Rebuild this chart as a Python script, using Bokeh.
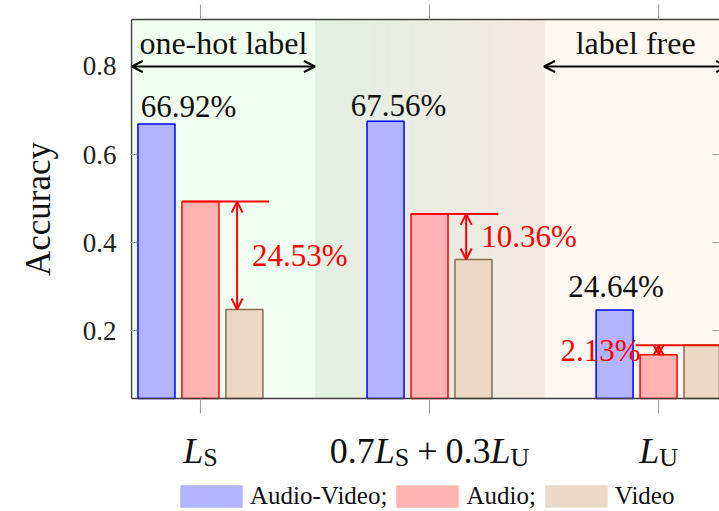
import numpy as np
from bokeh.plotting import figure
from bokeh.layouts import column
from bokeh.models import (Range1d, FixedTicker, Label, Arrow, OpenHead, Legend, LegendItem)
from bokeh.embed import file_html
from bokeh.resources import INLINE

# ---------------- data ----------------
groups = [0, 1, 2]
audio_video = [0.6692, 0.6756, 0.2464]
audio = [0.4930, 0.4650, 0.1450]
video = [0.2477, 0.3614, 0.1663]
av_labels = ["66.92%", "67.56%", "24.64%"]
gap_labels = ["24.53%", "10.36%", "2.13%"]
y_ticks = [0.2, 0.4, 0.6, 0.8]
y_tick_labels = ["0.2", "0.4", "0.6", "0.8"]
series_names = ["Audio-Video;", "Audio;", "Video"]
region_labels = ["one-hot label", "label free"]
# tick labels: pieces (text, italic?, is_subscript)
tick_label_pieces = [
    [("L", True, False), ("S", False, True)],
    [("0.7", False, False), ("L", True, False), ("S", False, True), ("+", False, False),
     ("0.3", False, False), ("L", True, False), ("U", False, True)],
    [("L", True, False), ("U", False, True)],
]

# ---------------- layout ----------------
W = 719
H_MAIN, H_BOT = 417, 94
B_LEFT = 130
PX_Y = 440.0                      # pixels per accuracy unit
Y_TOP = 0.9068                    # visual top of axis box
Y_FLOOR = 0.0455                  # visual bottom of axis box
Y_MAX = Y_TOP + 19 / PX_Y
Y_MIN = Y_FLOOR - (H_MAIN - 398) / PX_Y
X_VIS_L = -0.301
X_MAX = 2.266
PX_X = (W - B_LEFT - 1) / (X_MAX - X_VIS_L)
X_MIN = X_VIS_L - 1 / PX_X
regions = [(-0.3, 0.5), (0.5, 1.5), (1.5, 2.3)]
BAR_W = 0.1616
OFF = 0.192
FONT = "Liberation Serif"
FRAME_C = "#404040"
TICK_C = "#999999"

C_AV_FILL, C_AV_LINE = "#b3b3ff", "#0000ff"
C_A_FILL, C_A_LINE = "#ffb3b3", "#ff0000"
C_V_FILL, C_V_LINE = "#ebd9c6", "#8a6d4f"

xr = Range1d(X_MIN, X_MAX)
p = figure(width=W, height=H_MAIN, x_range=xr, y_range=Range1d(Y_MIN, Y_MAX),
           output_backend="svg", toolbar_location=None,
           min_border_left=B_LEFT, min_border_right=0, min_border_top=0, min_border_bottom=0)
p.grid.visible = False
p.outline_line_color = None
p.background_fill_color = "white"
p.border_fill_color = "white"
p.xaxis.visible = False

# ---------------- background bands ----------------
p.quad(left=[regions[0][0] - 0.1], right=[regions[0][1]], bottom=[Y_FLOOR], top=[Y_TOP],
       fill_color="#f0fff0", line_color=None)
p.quad(left=[regions[2][0]], right=[regions[2][1] + 0.1], bottom=[Y_FLOOR], top=[Y_TOP],
       fill_color="#fdf8f1", line_color=None)
n_strips = 60
edges = np.linspace(regions[1][0], regions[1][1], n_strips + 1)
c0 = np.array([0xe3, 0xef, 0xe3], dtype=float)
c1 = np.array([0xf2, 0xe9, 0xe2], dtype=float)
cols = []
for i in range(n_strips):
    t = (i + 0.5) / n_strips
    c = (c0 * (1 - t) + c1 * t).round().astype(int)
    cols.append("#%02x%02x%02x" % tuple(c))
p.quad(left=edges[:-1], right=edges[1:] + 0.002, bottom=Y_FLOOR, top=Y_TOP,
       fill_color=cols, line_color=None)

# ---------------- bars ----------------
g = np.array(groups, dtype=float)
p.vbar(x=g - OFF, top=audio_video, bottom=Y_FLOOR, width=BAR_W,
       fill_color=C_AV_FILL, line_color=C_AV_LINE, line_width=1.5)
p.vbar(x=g, top=audio, bottom=Y_FLOOR, width=BAR_W,
       fill_color=C_A_FILL, line_color=C_A_LINE, line_width=1.5)
p.vbar(x=g + OFF, top=video, bottom=Y_FLOOR, width=BAR_W,
       fill_color=C_V_FILL, line_color=C_V_LINE, line_width=1.5)

# ---------------- axis box and ticks ----------------
p.segment(x0=[X_VIS_L, X_VIS_L, X_VIS_L], x1=[X_MAX + 1, X_MAX + 1, X_VIS_L],
          y0=[Y_TOP, Y_FLOOR, Y_FLOOR], y1=[Y_TOP, Y_FLOOR, Y_TOP],
          line_color=FRAME_C, line_width=1.5)
p.segment(x0=[X_MAX - 7 / PX_X] * len(y_ticks), x1=[X_MAX] * len(y_ticks),
          y0=y_ticks, y1=y_ticks, line_color=TICK_C, line_width=1)
p.segment(x0=groups, x1=groups, y0=[Y_TOP] * 3, y1=[Y_TOP + 15 / PX_Y] * 3,
          line_color=TICK_C, line_width=1)
p.segment(x0=groups, x1=groups, y0=[Y_FLOOR] * 3, y1=[Y_FLOOR - 15 / PX_Y] * 3,
          line_color=TICK_C, line_width=1)

ya = p.yaxis[0]
ya.ticker = FixedTicker(ticks=y_ticks)
ya.major_label_overrides = {t: s for t, s in zip(y_ticks, y_tick_labels)}
ya.major_tick_in = 7
ya.major_tick_out = 0
ya.major_tick_line_color = TICK_C
ya.minor_tick_line_color = None
ya.axis_line_color = None
ya.major_label_standoff = 14
ya.major_label_text_font = FONT
ya.major_label_text_font_size = "27px"
ya.major_label_text_color = "#222222"
ya.axis_label = "Accuracy"
ya.axis_label_text_font = FONT
ya.axis_label_text_font_size = "35px"
ya.axis_label_text_font_style = "normal"
ya.axis_label_text_color = "#111111"
ya.axis_label_standoff = 22

# ---------------- region arrows & labels ----------------
for (x0, x1), lab in zip([regions[0], regions[2]], region_labels):
    p.add_layout(Arrow(x_start=x0, x_end=x1, y_start=0.8, y_end=0.8,
                       line_color="black", line_width=2,
                       start=OpenHead(size=11, line_width=2, line_color="black"),
                       end=OpenHead(size=11, line_width=2, line_color="black")))
    p.add_layout(Label(x=(x0 + x1) / 2, y=0.8, y_offset=23, text=lab, text_font=FONT,
                       text_font_size="32px", text_align="center",
                       text_baseline="middle", text_color="#111111"))

# ---------------- value labels ----------------
av_dx = [32, 13, 1.5]
av_dy = [18, 16, 24]
for gi, v, lab, dx, dy in zip(groups, audio_video, av_labels, av_dx, av_dy):
    p.add_layout(Label(x=gi - OFF, y=v, x_offset=dx, y_offset=dy, text=lab, text_font=FONT,
                       text_font_size="31px", text_align="center",
                       text_baseline="middle", text_color="#111111"))

# ---------------- gap brackets ----------------
line_span = [(-0.08, 0.30), (-0.08, 0.30), (-0.10, 0.40)]
arrow_dx = [0.16, 0.16, 0.0]
head_size = [11, 11, 10]
label_side = [("left", 15), ("left", 15), ("right", -18)]
for i, gi in enumerate(groups):
    top = max(audio[i], video[i])
    bot = min(audio[i], video[i])
    p.segment(x0=[gi + line_span[i][0]], x1=[gi + line_span[i][1]], y0=[top], y1=[top],
              line_color="red", line_width=2)
    ax = gi + arrow_dx[i]
    p.add_layout(Arrow(x_start=ax, x_end=ax, y_start=top, y_end=bot,
                       line_color="red", line_width=2,
                       start=OpenHead(size=head_size[i], line_width=2, line_color="red"),
                       end=OpenHead(size=head_size[i], line_width=2, line_color="red")))
    p.add_layout(Label(x=ax, y=(top + bot) / 2, x_offset=label_side[i][1], text=gap_labels[i],
                       text_font=FONT, text_font_size="31px", text_align=label_side[i][0],
                       text_baseline="middle", text_color="red"))

# ---------------- bottom strip: tick labels + legend ----------------
p2 = figure(width=W, height=H_BOT, x_range=xr, y_range=Range1d(-H_BOT, 0),
            output_backend="svg", toolbar_location=None,
            min_border_left=B_LEFT, min_border_right=0, min_border_top=0, min_border_bottom=0)
p2.axis.visible = False
p2.grid.visible = False
p2.outline_line_color = None
p2.background_fill_color = "white"
p2.border_fill_color = "white"

TIMES = {"0": 500, "1": 500, "2": 500, "3": 500, "4": 500, "5": 500, "6": 500, "7": 500,
         "8": 500, "9": 500, ".": 250, "+": 564, "S": 556, "U": 722}
TIMES_IT = {"L": 556}
MAIN, SUB = 36, 26
MID_Y, SUB_MID_Y = -(450 - H_MAIN), -(457 - H_MAIN)


def piece_w(text, italic, sub):
    size = SUB if sub else MAIN
    table = TIMES_IT if italic else TIMES
    w = sum(table.get(c, 500) for c in text) * size / 1000
    if text == "+":
        w += 2 * 0.222 * MAIN
    return w


for gi, pieces in zip(groups, tick_label_pieces):
    widths = [piece_w(*pc) for pc in pieces]
    xo = -sum(widths) / 2
    for (text, italic, sub), w in zip(pieces, widths):
        extra = 0.222 * MAIN if text == "+" else 0
        p2.add_layout(Label(x=gi, y=SUB_MID_Y if sub else MID_Y, x_offset=xo + extra, text=text,
                            text_font=FONT, text_font_size=f"{SUB if sub else MAIN}px",
                            text_font_style="italic" if italic else "normal",
                            text_align="left", text_baseline="middle",
                            text_color="#111111"))
        xo += w

dummies = []
for fc in [C_AV_FILL, C_A_FILL, C_V_FILL]:
    dummies.append(p2.quad(left=[np.nan], right=[np.nan], top=[np.nan], bottom=[np.nan],
                           fill_color=fc, line_color=None))
legend = Legend(items=[LegendItem(label=n, renderers=[r]) for n, r in zip(series_names, dummies)],
                location=(42, 1), orientation="horizontal", glyph_width=78, glyph_height=28,
                label_standoff=0, spacing=1, padding=0, margin=0,
                border_line_color=None, background_fill_alpha=0,
                label_text_font=FONT, label_text_font_size="25px", label_text_color="#111111",
                label_height=28)
p2.add_layout(legend, "center")

layout = column(p, p2, spacing=0)
open("out.html", "w").write(file_html(layout, INLINE))
